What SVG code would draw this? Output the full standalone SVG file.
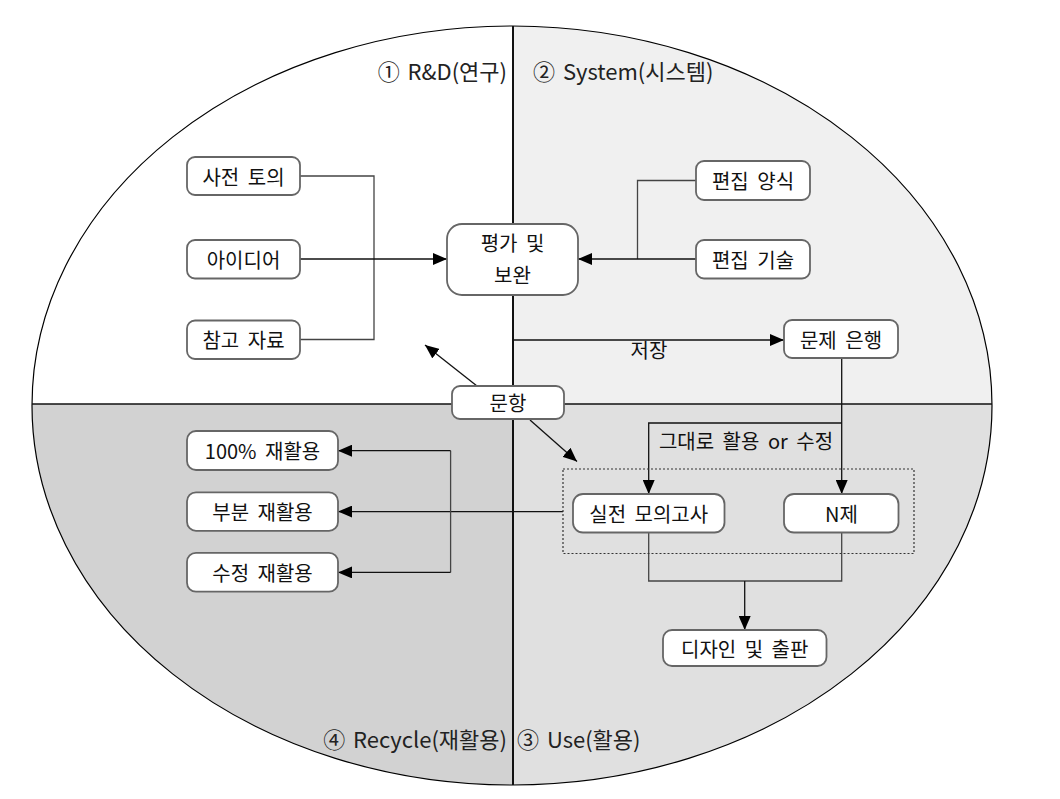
<svg xmlns="http://www.w3.org/2000/svg" width="1060" height="799" viewBox="0 0 1060 799">
<style>
.node rect{fill:#fff;stroke:#666;stroke-width:1.8}
.t{font-family:"Noto Sans CJK KR","Noto Sans",sans-serif;font-size:20px;word-spacing:4px;fill:#111;text-anchor:middle;dominant-baseline:central}
.q{font-family:"Noto Sans CJK KR","Noto Sans",sans-serif;font-size:22px;word-spacing:3px;fill:#222}
.c path{fill:none;stroke:#444;stroke-width:1.3}
.c .a{stroke:#111;marker-end:url(#ah)}
</style>
<defs>
<clipPath id="ec"><ellipse cx="512" cy="405.5" rx="480" ry="379.5"/></clipPath>
<marker id="ah" markerUnits="userSpaceOnUse" markerWidth="14" markerHeight="12" refX="14" refY="6" orient="auto"><path d="M0,0 L14,6 L0,12 z" fill="#000"/></marker>
</defs>
<rect width="1060" height="799" fill="#fff"/>
<g id="quadrants" clip-path="url(#ec)">
<rect x="0" y="0" width="512" height="404" fill="#ffffff"/>
<rect x="512" y="0" width="548" height="404" fill="#f0f0f0"/>
<rect x="0" y="404" width="512" height="395" fill="#d2d2d2"/>
<rect x="512" y="404" width="548" height="395" fill="#e0e0e0"/>
</g>
<ellipse cx="512" cy="405.5" rx="480" ry="379.5" fill="none" stroke="#000" stroke-width="1.2"/>
<line x1="513" y1="26" x2="513" y2="785" stroke="#111" stroke-width="2"/>
<line x1="32" y1="404" x2="992" y2="404" stroke="#111" stroke-width="1.5"/>
<g id="labels">
<text class="q" x="507" y="80" text-anchor="end">① R&amp;D(연구)</text>
<text class="q" x="533" y="80">② System(시스템)</text>
<text class="q" x="507" y="748" text-anchor="end">④ Recycle(재활용)</text>
<text class="q" x="517" y="748">③ Use(활용)</text>
<text class="t" x="649" y="349">저장</text>
<text class="t" x="746" y="440">그대로 활용 or 수정</text>
</g>
<g id="connectors" class="c">
<path d="M300,176 H374 V339.5 H300"/>
<path class="a" d="M300,259 H447"/>
<path d="M696,180.5 H637.5 V259"/>
<path class="a" d="M696,259 H578"/>
<path class="a" d="M512,340 H784"/>
<path class="a" d="M841.7,358 V494"/>
<path class="a" d="M841.7,423 H648.7 V494"/>
<path d="M648.7,532.5 V581 H841.7 V532.5"/>
<path class="a" d="M744.7,581 V630"/>
<path class="a" d="M563,511.6 H338"/>
<path d="M450.6,450.7 V572.4"/>
<path class="a" d="M450.6,450.7 H338"/>
<path class="a" d="M450.6,572.4 H338"/>
<path class="a" d="M477,386 L425,345"/>
<path class="a" d="M530,420 L577,461.5"/>
</g>
<rect id="group-box" x="563" y="469" width="351" height="84.5" fill="none" stroke="#333" stroke-width="1.2" stroke-dasharray="2,2"/>
<g id="n-saron" class="node"><rect x="187" y="157" width="113" height="38" rx="8"/><text class="t" x="243.5" y="176">사전 토의</text></g>
<g id="n-idea" class="node"><rect x="187" y="240" width="113" height="38.5" rx="8"/><text class="t" x="243.5" y="259">아이디어</text></g>
<g id="n-ref" class="node"><rect x="187" y="320.5" width="113" height="38.5" rx="8"/><text class="t" x="243.5" y="339.5">참고 자료</text></g>
<g id="n-eval" class="node"><rect x="447" y="224" width="131" height="71" rx="15"/><text class="t" x="512.5" y="242">평가 및</text><text class="t" x="512.5" y="274">보완</text></g>
<g id="n-style" class="node"><rect x="696" y="161" width="114" height="39" rx="8"/><text class="t" x="753" y="180.5">편집 양식</text></g>
<g id="n-tech" class="node"><rect x="696" y="240" width="114" height="38.5" rx="8"/><text class="t" x="753" y="259">편집 기술</text></g>
<g id="n-bank" class="node"><rect x="784" y="320" width="114" height="38" rx="8"/><text class="t" x="841" y="339">문제 은행</text></g>
<g id="n-item" class="node"><rect x="452" y="386" width="112" height="33" rx="8"/><text class="t" x="508" y="402.5">문항</text></g>
<g id="n-mock" class="node"><rect x="573" y="494" width="151.5" height="38.5" rx="10"/><text class="t" x="648.7" y="513">실전 모의고사</text></g>
<g id="n-n" class="node"><rect x="784" y="494" width="114.5" height="38.5" rx="10"/><text class="t" x="841.5" y="513">N제</text></g>
<g id="n-design" class="node"><rect x="663" y="630" width="163.5" height="36" rx="9"/><text class="t" x="744.7" y="648">디자인 및 출판</text></g>
<g id="n-r100" class="node"><rect x="187" y="431" width="151" height="39" rx="9"/><text class="t" x="262.5" y="450.5">100% 재활용</text></g>
<g id="n-rpart" class="node"><rect x="187" y="492.3" width="151" height="38.5" rx="9"/><text class="t" x="262.5" y="511.6">부분 재활용</text></g>
<g id="n-rmod" class="node"><rect x="187" y="552.8" width="151" height="38.9" rx="9"/><text class="t" x="262.5" y="572.3">수정 재활용</text></g>
</svg>
